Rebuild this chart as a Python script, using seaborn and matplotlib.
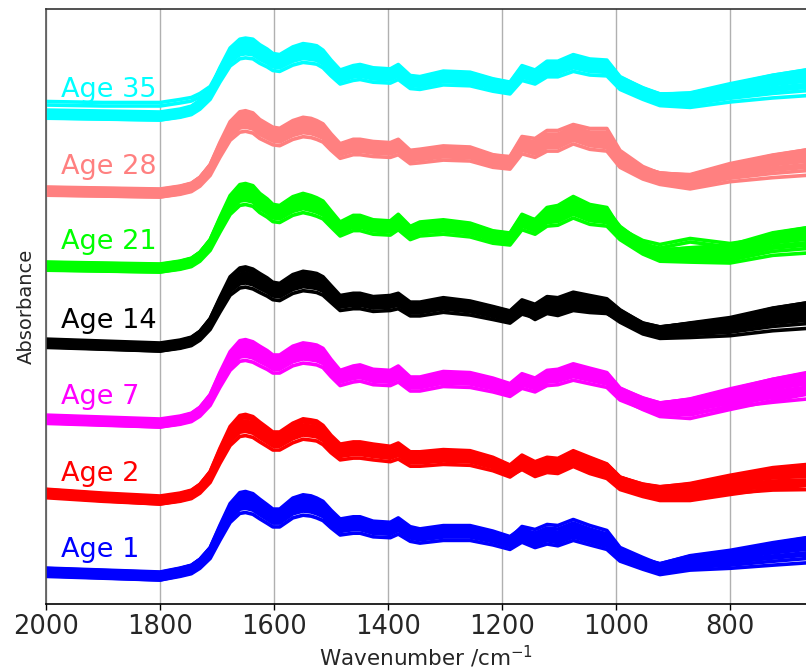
import numpy as np
import pandas as pd
import matplotlib
matplotlib.use("Agg")
import matplotlib.pyplot as plt
import seaborn as sns

# Wavenumber grid (cm^-1) at which the mean spectra are tabulated
wavenumber = [2000, 1900, 1800, 1765, 1745, 1730, 1712, 1695, 1677, 1660,
              1650, 1637, 1625, 1612, 1602, 1590, 1567, 1549, 1535, 1525,
              1514, 1500, 1484, 1461, 1449, 1426, 1396, 1382, 1361, 1344,
              1303, 1256, 1216, 1186, 1165, 1142, 1121, 1102, 1075, 1046,
              1016, 993, 953, 923, 870, 800, 725, 667]

# Mean absorbance profile of each age group (arbitrary units, before stacking)
age_1 = [4, 2, 0, 4, 7, 13, 24, 44, 64, 74,
         75, 73, 68, 63, 59, 59, 69, 72, 71, 69,
         66, 58, 50, 52, 52, 48, 47, 51, 43, 41,
         44, 44, 39, 34, 42, 36, 40, 38, 44, 39,
         34, 21, 13, 8, 15, 19, 25, 29]
age_2 = [7, 3, 0, 3, 6, 12, 24, 45, 65, 75,
         76, 74, 69, 64, 60, 60, 68, 72, 71, 70,
         66, 57, 49, 51, 51, 49, 47, 50, 42, 42,
         44, 43, 37, 30, 39, 33, 37, 36, 43, 37,
         31, 19, 12, 9, 11, 18, 24, 26]
age_7 = [4, 2, 0, 3, 6, 12, 24, 44, 63, 73,
         74, 72, 68, 64, 60, 60, 68, 71, 70, 69,
         66, 56, 46, 50, 51, 47, 46, 50, 40, 40,
         45, 44, 39, 34, 43, 39, 46, 47, 52, 48,
         44, 30, 21, 16, 19, 28, 36, 41]
age_14 = [4, 2, 0, 3, 6, 12, 24, 43, 62, 70,
          71, 69, 65, 61, 57, 56, 64, 67, 66, 65,
          62, 54, 45, 47, 47, 44, 45, 47, 39, 39,
          43, 40, 35, 31, 41, 37, 44, 43, 48, 45,
          42, 32, 20, 16, 19, 23, 31, 35]
age_21 = [2, 1, 0, 3, 6, 12, 24, 44, 64, 74,
          75, 73, 66, 61, 56, 55, 63, 66, 64, 62,
          59, 50, 40, 46, 46, 42, 41, 47, 36, 40,
          42, 39, 32, 30, 47, 42, 51, 52, 60, 53,
          51, 36, 21, 14, 15, 16, 27, 31]
age_28 = [2, 1, 0, 3, 6, 12, 24, 44, 63, 72,
          73, 71, 65, 61, 58, 57, 64, 67, 66, 64,
          61, 52, 43, 47, 47, 45, 44, 47, 37, 38,
          41, 40, 33, 31, 48, 44, 51, 51, 59, 53,
          51, 33, 21, 16, 13, 23, 30, 34]
age_35 = [2, 1, 0, 3, 6, 12, 23, 42, 60, 68,
          69, 68, 63, 59, 55, 54, 61, 64, 63, 62,
          58, 49, 40, 44, 45, 42, 41, 45, 35, 34,
          39, 38, 32, 29, 44, 40, 48, 48, 54, 50,
          49, 34, 24, 18, 18, 26, 33, 37]

ages = ["Age 1", "Age 2", "Age 7", "Age 14", "Age 21", "Age 28", "Age 35"]
profiles = [age_1, age_2, age_7, age_14, age_21, age_28, age_35]
group_offsets = [28, 104, 181, 257, 336, 411, 488]
colors = ["#0000FF", "#FF0000", "#FF00FF", "#000000",
          "#00FF00", "#FF8080", "#00FFFF"]

# Spectrum-to-spectrum variation within each group
spec_scale = [0.90, 0.91, 0.93, 0.94, 0.95, 0.96, 0.97, 0.98, 0.99, 1.00,
              1.00, 1.01, 1.02, 1.03, 1.04, 1.05, 1.06, 1.07, 1.08, 1.10]
spec_shift = [-4, 1, -2, 3, 0, -1, 4, -3, 1, 0, 2, -3, 1, -1, 0, 3, -2, 1, -4, 2]
spec_tilt = [-9, 5, -3, 8, 1, -6, 3, -8, 0, 6, -1, 2, -4, 9, -7, 1, 5, -2, 7, -5]
# How strongly the low-wavenumber baseline drift affects each grid point
tilt_weight = [0.0] * 41 + [0.0, 0.1, 0.2, 0.4, 0.6, 0.85, 1.0]

# Individual spectra that depart from their group (deviation by wavenumber)
dev_age_1 = {1165: 4, 1142: 7, 1121: 8, 1102: 9, 1075: 9, 1046: 8, 1016: 8,
             993: 4, 953: 2}
dev_age_2 = {1186: -2, 1165: -5, 1142: -6, 1121: -6, 1102: -6, 1075: -6,
             1046: -7, 1016: -6, 993: -5, 953: -5, 923: -6, 870: -8,
             800: -9, 725: -9, 667: -8}
dev_age_7 = {1677: 3, 1660: 6, 1650: 6, 1637: 5, 1625: 4, 1602: 3,
             993: -2, 953: -4, 923: -6, 870: -11, 800: -11, 725: -10,
             667: -9}
dev_age_14 = {1165: -2, 1142: -6, 1121: -7, 1102: -8, 1075: -8, 1046: -7,
              1016: -5, 993: -2}
dev_age_21 = {1142: 3, 1121: 6, 1102: 7, 1075: 8, 1046: 7, 1016: 6,
              953: 3, 923: 6, 870: 11, 800: 5}
dev_age_28 = {1186: 2, 1165: 5, 1142: 7, 1121: 8, 1102: 8, 1075: 6,
              1046: 8, 1016: 10, 993: 6, 953: 2}
dev_age_35 = {2000: 9, 1900: 9, 1800: 10, 1765: 10, 1745: 9, 1730: 7,
              1712: 3, 1695: 1, 1142: -2, 1121: -4, 1102: -5, 1075: -5,
              1046: -4}
deviations = [dev_age_1, dev_age_2, dev_age_7, dev_age_14,
              dev_age_21, dev_age_28, dev_age_35]
dev_pair_shift = [0.0, 3.5]

rows = []
wn = np.array(wavenumber, dtype=float)
tw = np.array(tilt_weight, dtype=float)
for age, prof, off, dev in zip(ages, profiles, group_offsets, deviations):
    prof = np.array(prof, dtype=float)
    k = 0
    for sc, sh, tl in zip(spec_scale, spec_shift, spec_tilt):
        y = off + sh + sc * prof + tl * tw
        rows.append(pd.DataFrame({"wavenumber": wn, "absorbance": y,
                                  "age": age, "spectrum": k}))
        k += 1
    d = np.array([dev.get(w, 0.0) for w in wavenumber], dtype=float)
    for ps in dev_pair_shift:
        y = off + prof + d + ps * np.sign(d.sum())
        rows.append(pd.DataFrame({"wavenumber": wn, "absorbance": y,
                                  "age": age, "spectrum": k}))
        k += 1
df = pd.concat(rows, ignore_index=True)

sns.set_style("white")
plt.rcParams["font.family"] = ["DejaVu Sans"]

fig = plt.figure(figsize=(8.06, 6.70), dpi=100)
ax = fig.add_axes([46 / 806, 66 / 670, 1 - 46 / 806, 595 / 670])

for age, col in zip(ages, colors):
    sns.lineplot(data=df[df["age"] == age], x="wavenumber", y="absorbance",
                 units="spectrum", estimator=None, color=col, lw=2.6,
                 solid_joinstyle="round", solid_capstyle="round",
                 legend=False, ax=ax)

for age, col, off in zip(ages, colors, group_offsets):
    ax.text(1974, off + 26, age, color=col, fontsize=19.5,
            va="center", ha="left")

ax.set_xlim(2000, 666.7)
ax.set_ylim(0, 595)
ax.set_xticks([2000, 1800, 1600, 1400, 1200, 1000, 800])
ax.set_yticks([])
ax.tick_params(axis="x", labelsize=18.5, length=4, width=1, direction="out",
               bottom=True, color="black", pad=3)
ax.grid(axis="x", color="#b0b0b0", lw=1)
ax.grid(axis="y", visible=False)
ax.set_xlabel("Wavenumber /cm$^{-1}$", fontsize=15.5, labelpad=3)
ax.set_ylabel("Absorbance", fontsize=14, labelpad=7)
for side in ["left", "bottom", "top"]:
    ax.spines[side].set_visible(True)
    ax.spines[side].set_linewidth(1.2)
ax.spines["left"].set_color("#555555")
ax.spines["bottom"].set_color("black")
ax.spines["top"].set_color("#333333")
ax.spines["right"].set_visible(False)

fig.savefig("out.png", dpi=100)
